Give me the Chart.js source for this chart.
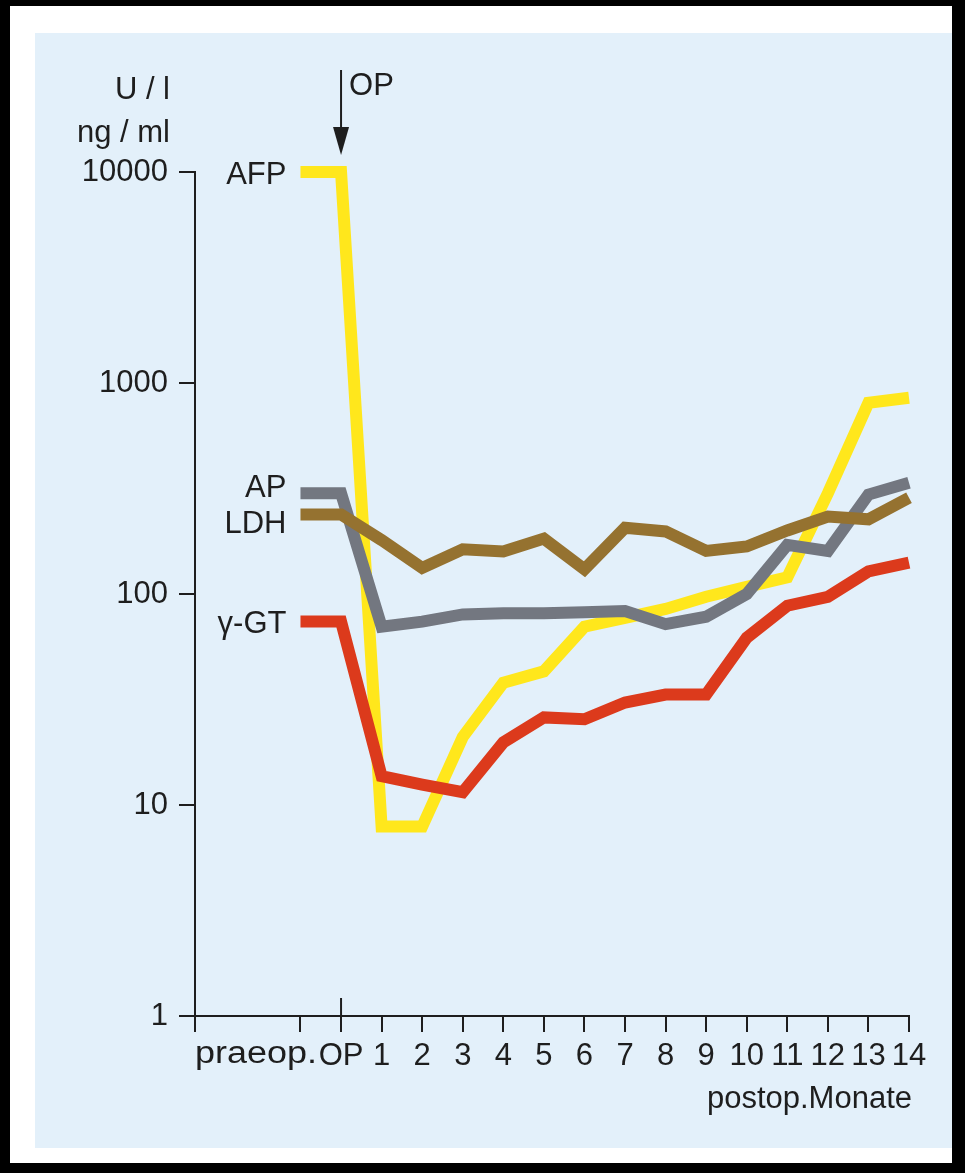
<!DOCTYPE html>
<html>
<head>
<meta charset="utf-8">
<script src="https://cdn.jsdelivr.net/npm/chart.js@4.4.1/dist/chart.umd.min.js"></script>
<style>
  html, body { margin: 0; padding: 0; background: #000; }
  #page { position: relative; width: 965px; height: 1173px; overflow: hidden; }
  #paper { position: absolute; left: 10px; top: 6px; width: 942px; height: 1157px; background: #fff; }
  #tint { position: absolute; left: 35px; top: 33px; width: 917px; height: 1115px; background: #e3f0fa; }
  #chart { position: absolute; left: 0; top: 0; }
</style>
</head>
<body>
<div id="page">
  <div id="paper"></div>
  <div id="tint"></div>
  <canvas id="chart" width="965" height="1173"></canvas>
</div>
<script>
// x positions: praeop. = -1, OP = 0, then postoperative months 1..14
const months = [-1, 0, 1, 2, 3, 4, 5, 6, 7, 8, 9, 10, 11, 12, 13, 14];
const xTickValues = [-1, 0, 1, 2, 3, 4, 5, 6, 7, 8, 9, 10, 11, 12, 13, 14];
const xTickLabels = ['', 'OP', '1', '2', '3', '4', '5', '6', '7', '8', '9', '10', '11', '12', '13', '14'];
const yTickValues = [1, 10, 100, 1000, 10000];

const afp = [10000, 10000, 7.9, 7.9, 21, 38, 43, 70, 77, 85, 97, 108, 120, 300, 806, 851];
const ap  = [300, 300, 70, 74, 80, 81, 81, 82, 83, 72, 78, 100, 171, 160, 296, 337];
const ldh = [238, 238, 180, 133, 163, 159, 183, 131, 206, 198, 160, 168, 200, 233, 226, 286];
const ggt = [74, 74, 13.7, 12.5, 11.5, 19.8, 26, 25.5, 30.6, 33.4, 33.4, 62, 88, 97, 128, 141];

const FONT = "'Liberation Sans', Arial, sans-serif";
const INK = '#1e1e1e';

function pts(arr) {
  return arr.map((v, i) => ({ x: months[i], y: v }));
}

function line(label, values, color, order, dy) {
  return {
    label: label,
    data: pts(values),
    borderColor: color,
    borderWidth: 12,
    borderJoinStyle: 'miter',
    borderCapStyle: 'butt',
    pointRadius: 0,
    tension: 0,
    clip: false,
    order: order,
    labelDy: dy
  };
}

const notes = {
  id: 'notes',
  afterDraw(chart) {
    const ctx = chart.ctx;
    const xs = chart.scales.x;
    const ys = chart.scales.y;
    const area = chart.chartArea;
    const xOP = xs.getPixelForValue(0);
    ctx.save();
    ctx.fillStyle = INK;
    ctx.strokeStyle = INK;
    ctx.font = '31px ' + FONT;
    ctx.textBaseline = 'middle';

    // unit labels
    ctx.textAlign = 'right';
    ctx.fillText('U / l', area.left - 25, 90);
    ctx.fillText('ng / ml', area.left - 25, 133);

    // OP arrow
    ctx.lineWidth = 2;
    ctx.beginPath();
    ctx.moveTo(xOP, 70);
    ctx.lineTo(xOP, 130);
    ctx.stroke();
    ctx.beginPath();
    ctx.moveTo(xOP - 8, 127);
    ctx.lineTo(xOP + 8, 127);
    ctx.lineTo(xOP, 155);
    ctx.closePath();
    ctx.fill();
    ctx.textAlign = 'left';
    ctx.fillText('OP', xOP + 8, 86);

    // OP tick above the axis
    ctx.beginPath();
    ctx.moveTo(xOP, area.bottom);
    ctx.lineTo(xOP, area.bottom - 18);
    ctx.stroke();

    // praeop. label, left aligned at axis start (set a bit wider, as printed)
    ctx.save();
    ctx.translate(area.left, 1054);
    ctx.scale(1.16, 1);
    ctx.textAlign = 'left';
    ctx.fillText('praeop.', 0, 0);
    ctx.restore();

    // axis caption
    ctx.textAlign = 'right';
    ctx.fillText('postop.Monate', area.right + 3, 1099);

    // series labels
    chart.data.datasets.forEach((ds) => {
      const p = ds.data[0];
      ctx.textAlign = 'right';
      ctx.fillText(ds.label, xs.getPixelForValue(p.x) - 14, ys.getPixelForValue(p.y) + ds.labelDy);
    });
    ctx.restore();
  }
};

new Chart(document.getElementById('chart'), {
  type: 'line',
  data: {
    datasets: [
      line('LDH', ldh, '#957230', 1, 10),
      line('AP', ap, '#737780', 2, -5),
      line('\u03b3-GT', ggt, '#dc3a1c', 3, 3),
      line('AFP', afp, '#ffe71c', 4, 3)
    ]
  },
  options: {
    responsive: false,
    animation: false,
    events: [],
    layout: { padding: { left: 0, top: 172, right: 56, bottom: 37 } },
    plugins: { legend: { display: false }, tooltip: { enabled: false } },
    scales: {
      x: {
        type: 'linear',
        min: -3.6,
        max: 14,
        afterFit(scale) { scale.height = 120; },
        afterBuildTicks(scale) {
          scale.ticks = [scale.min].concat(xTickValues).map(v => ({ value: v }));
        },
        ticks: {
          autoSkip: false,
          maxRotation: 0,
          padding: 6,
          color: INK,
          font: { family: FONT, size: 31 },
          callback(value) {
            const i = xTickValues.indexOf(value);
            return i < 0 ? '' : xTickLabels[i];
          }
        },
        grid: { drawOnChartArea: false, drawTicks: true, tickLength: 16, color: INK, lineWidth: 2 },
        border: { display: true, color: INK, width: 2 }
      },
      y: {
        type: 'logarithmic',
        min: 1,
        max: 10000,
        afterFit(scale) { scale.width = 195; },
        afterBuildTicks(scale) {
          scale.ticks = yTickValues.map(v => ({ value: v }));
        },
        ticks: {
          padding: 11,
          color: INK,
          font: { family: FONT, size: 31 },
          callback(value) { return String(value); }
        },
        grid: { drawOnChartArea: false, drawTicks: true, tickLength: 16, color: INK, lineWidth: 2 },
        border: { display: true, color: INK, width: 2 }
      }
    }
  },
  plugins: [notes]
});
</script>
</body>
</html>
